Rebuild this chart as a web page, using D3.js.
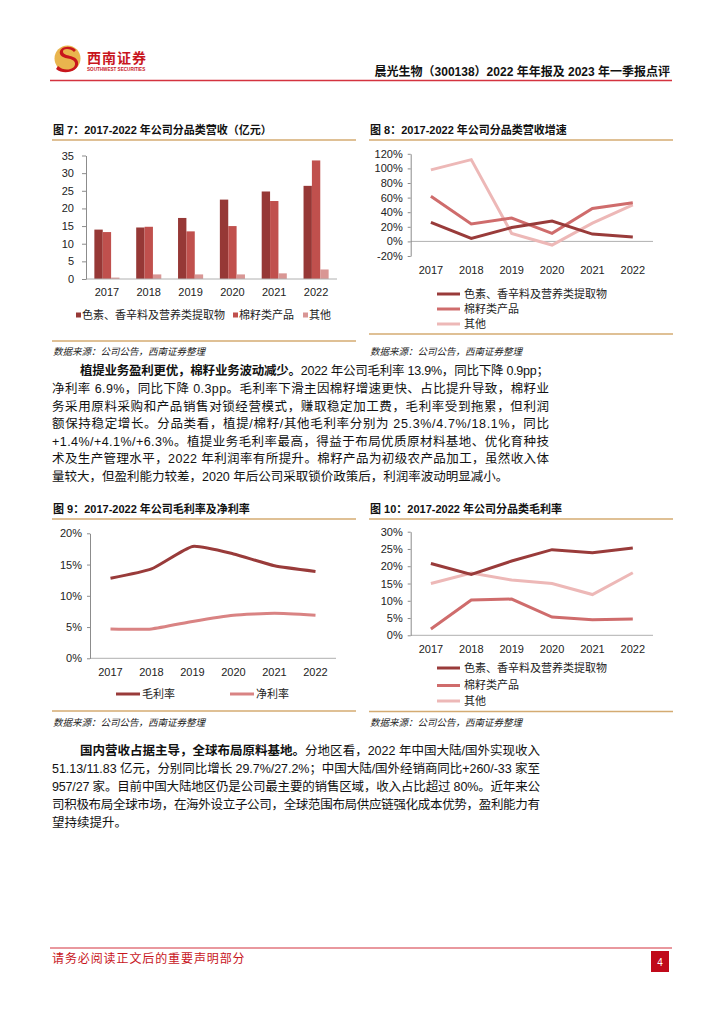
<!DOCTYPE html>
<html><head><meta charset="utf-8">
<script src="https://cdn.jsdelivr.net/npm/d3@7"></script>
<style>body{margin:0;background:#fff}</style>
</head><body>
<script>
// ---------------- DATA ----------------
const years = ["2017","2018","2019","2020","2021","2022"];
const seriesNames = ["色素、香辛料及营养类提取物","棉籽类产品","其他"];
const revPlant  = [14.0,14.6,17.3,22.5,24.8,26.4];
const revCotton = [13.3,14.8,13.5,15.0,22.1,33.6];
const revOther  = [0.4,1.3,1.3,1.3,1.6,2.7];
const revTicks  = [0,5,10,15,20,25,30,35];
const growthPlant  = [26,4,19,28,10,6];
const growthCotton = [62,24,32,11,45,53];
const growthOther  = [98,112,11,-5,25,50];
const growthTicks  = [-20,0,20,40,60,80,100,120];
const marginNames = ["毛利率","净利率"];
const grossMargin = [12.8,14.3,17.9,16.7,14.8,13.9];
const netMargin   = [4.7,4.7,5.9,6.9,7.2,6.9];
const marginTicks = [0,5,10,15,20];
const gmPlant  = [20.8,17.6,21.5,24.8,23.9,25.3];
const gmCotton = [1.8,10.2,10.5,5.3,4.5,4.7];
const gmOther  = [15.0,18.0,16.0,15.0,11.8,18.1];
const gmTicks  = [0,5,10,15,20,25,30];

const headerTitle = "晨光生物（300138）2022 年年报及 2023 年一季报点评";
const titles = ["图 7：2017-2022 年公司分品类营收（亿元）","图 8：2017-2022 年公司分品类营收增速",
                "图 9：2017-2022 年公司毛利率及净利率","图 10：2017-2022 年公司分品类毛利率"];
const sourceText = "数据来源：公司公告，西南证券整理";
const para1 = [
  ["植提业务盈利更优，棉籽业务波动减少。","2022 年公司毛利率 13.9%，同比下降 0.9pp；"],
  ["","净利率 6.9%，同比下降 0.3pp。毛利率下滑主因棉籽增速更快、占比提升导致，棉籽业"],
  ["","务采用原料采购和产品销售对锁经营模式，赚取稳定加工费，毛利率受到拖累，但利润"],
  ["","额保持稳定增长。分品类看，植提/棉籽/其他毛利率分别为 25.3%/4.7%/18.1%，同比"],
  ["","+1.4%/+4.1%/+6.3%。植提业务毛利率最高，得益于布局优质原材料基地、优化育种技"],
  ["","术及生产管理水平，2022 年利润率有所提升。棉籽产品为初级农产品加工，虽然收入体"],
  ["","量较大，但盈利能力较差，2020 年后公司采取锁价政策后，利润率波动明显减小。"]
];
const para2 = [
  ["国内营收占据主导，全球布局原料基地。","分地区看，2022 年中国大陆/国外实现收入"],
  ["","51.13/11.83 亿元，分别同比增长 29.7%/27.2%；中国大陆/国外经销商同比+260/-33 家至"],
  ["","957/27 家。目前中国大陆地区仍是公司最主要的销售区域，收入占比超过 80%。近年来公"],
  ["","司积极布局全球市场，在海外设立子公司，全球范围布局供应链强化成本优势，盈利能力有"],
  ["","望持续提升。"]
];
const footerText = "请务必阅读正文后的重要声明部分";
const pageNo = "4";

// ---------------- STYLE ----------------
const FONT = "'Liberation Sans','Noto Sans CJK SC',sans-serif";
const GOLD = "#D4AB72";
const C_DARK = "#963836", C_MID = "#C0504D", C_LIGHT = "#D99694";
const L_DARK = "#993B3A", L_MID = "#CF6C6C", L_LIGHT = "#EDB8B7";

const svg = d3.select("body").append("svg").attr("width",724).attr("height",1024)
  .style("font-family",FONT);
svg.append("rect").attr("width",724).attr("height",1024).attr("fill","#fff");

// ---------------- HEADER ----------------
const logo = svg.append("g");
logo.append("circle").attr("cx",67.5).attr("cy",58.5).attr("r",13).attr("fill","#E9B54E");
logo.append("path").attr("d","M76,50 C70,44 58,47 60,54 C62,60 74,57 75,63 C76,70 64,72 58,66 L56,69 C64,76 80,71 78,62 C76,54 64,57 63,52 C62,48 71,48 74,52 Z").attr("fill","#C8161D");
logo.append("text").attr("x",87).attr("y",63).attr("font-size",14).attr("font-weight",700)
  .attr("fill","#C8161D").attr("letter-spacing",1).text("西南证券");
logo.append("text").attr("x",87).attr("y",71).attr("font-size",4.6).attr("font-weight",700)
  .attr("fill","#C8161D").text("SOUTHWEST SECURITIES");
svg.append("text").attr("x",670).attr("y",76).attr("text-anchor","end").attr("font-size",12)
  .attr("font-weight",700).attr("fill","#111").text(headerTitle);
svg.append("line").attr("x1",50).attr("x2",672).attr("y1",80.5).attr("y2",80.5)
  .attr("stroke","#D4333F").attr("stroke-width",1.5);

// ---------------- HELPERS ----------------
function titleBlock(x, x2, y, text){
  svg.append("text").attr("x",x).attr("y",y).attr("dy","0.35em").attr("font-size",11)
    .attr("font-weight",700).attr("fill","#111").text(text);
  svg.append("line").attr("x1",x-1).attr("x2",x2).attr("y1",y+10).attr("y2",y+10)
    .attr("stroke",GOLD).attr("stroke-width",1.5);
}
function bottomBlock(x, x2, lineY, srcY){
  svg.append("line").attr("x1",x-1).attr("x2",x2).attr("y1",lineY).attr("y2",lineY)
    .attr("stroke",GOLD).attr("stroke-width",1.5);
  svg.append("text").attr("x",x).attr("y",srcY).attr("dy","0.35em").attr("font-size",9.5)
    .attr("font-style","italic").attr("fill","#222").text(sourceText);
}
function yAxis(g, y, ticks, fmt, x, tickLen, pad){
  const ax = g.append("g").attr("transform",`translate(${x},0)`)
    .call(d3.axisLeft(y).tickValues(ticks).tickFormat(fmt).tickSizeOuter(0).tickSizeInner(tickLen).tickPadding(pad));
  ax.select(".domain").attr("stroke","#8c8c8c");
  ax.selectAll(".tick line").attr("stroke","#8c8c8c");
  ax.selectAll(".tick text").attr("font-size",11).attr("fill","#222").attr("font-family",FONT);
  return ax;
}
function xLabels(g, xs, y){
  g.selectAll(null).data(years).enter().append("text")
    .attr("x",d=>xs(d)).attr("y",y).attr("dy","0.35em").attr("text-anchor","middle")
    .attr("font-size",11).attr("fill","#222").text(d=>d);
}
function lineLegend(g, items, x, ys){
  items.forEach((it,i)=>{
    g.append("line").attr("x1",x).attr("x2",x+23).attr("y1",ys[i]).attr("y2",ys[i])
      .attr("stroke",it.color).attr("stroke-width",3);
    g.append("text").attr("x",x+27).attr("y",ys[i]).attr("dy","0.35em").attr("font-size",11)
      .attr("fill","#222").text(it.name);
  });
}

// ---------------- CHART 7: bars ----------------
{
  titleBlock(53,356,130,titles[0]);
  const g = svg.append("g");
  const x0 = d3.scaleBand().domain(years).range([86,337]).paddingInner(0.4).paddingOuter(0.2);
  const x1 = d3.scaleBand().domain([0,1,2]).range([0,x0.bandwidth()]);
  const y = d3.scaleLinear().domain([0,35]).range([279,155.5]);
  const series = [revPlant,revCotton,revOther];
  const cols = [C_DARK,C_MID,C_LIGHT];
  series.forEach((s,k)=>{
    g.selectAll(null).data(s).enter().append("rect")
      .attr("x",(d,i)=>x0(years[i])+x1(k)).attr("width",x1.bandwidth())
      .attr("y",d=>y(d)).attr("height",d=>y(0)-y(d)).attr("fill",cols[k]);
  });
  g.append("line").attr("x1",86).attr("x2",337).attr("y1",y(0)).attr("y2",y(0)).attr("stroke","#b0b0b0");
  yAxis(g,y,revTicks,d=>d,86,4,8);
  const xc = d=>x0(d)+x0.bandwidth()/2;
  xLabels(g,xc,292);
  const lx = [76,233,303];
  seriesNames.forEach((n,i)=>{
    g.append("rect").attr("x",lx[i]).attr("y",312.5).attr("width",5).attr("height",5).attr("fill",cols[i]);
    g.append("text").attr("x",lx[i]+6).attr("y",315).attr("dy","0.35em").attr("font-size",11)
      .attr("fill","#222").text(n);
  });
  bottomBlock(53,356,341,352);
}

// ---------------- CHART 8: growth lines ----------------
{
  titleBlock(370,673,130,titles[1]);
  const g = svg.append("g");
  const x = d3.scalePoint().domain(years).range([410.7,653]).padding(0.5);
  const y = d3.scaleLinear().domain([-20,120]).range([256,153.8]);
  g.append("line").attr("x1",410.7).attr("x2",653).attr("y1",y(0)).attr("y2",y(0)).attr("stroke","#b0b0b0");
  yAxis(g,y,growthTicks,d=>d+"%",410.7,3,5);
  const line = d3.line().x((d,i)=>x(years[i])).y(d=>y(d));
  [[growthOther,L_LIGHT],[growthCotton,L_MID],[growthPlant,L_DARK]].forEach(([s,c])=>{
    g.append("path").attr("d",line(s)).attr("fill","none").attr("stroke",c).attr("stroke-width",3);
  });
  xLabels(g,x,270);
  lineLegend(g,[{name:seriesNames[0],color:L_DARK},{name:seriesNames[1],color:L_MID},{name:seriesNames[2],color:L_LIGHT}],437,[294,309,324]);
  bottomBlock(370,673,334,352);
}

// ---------------- CHART 9: margins ----------------
{
  titleBlock(53,356,509,titles[2]);
  const g = svg.append("g");
  const x = d3.scalePoint().domain(years).range([90,336]).padding(0.5);
  const y = d3.scaleLinear().domain([0,20]).range([658.3,533.3]);
  g.append("line").attr("x1",90).attr("x2",336).attr("y1",y(0)).attr("y2",y(0)).attr("stroke","#b0b0b0");
  yAxis(g,y,marginTicks,d=>d+"%",90,3,5);
  const line = d3.line().x((d,i)=>x(years[i])).y(d=>y(d)).curve(d3.curveCardinal.tension(0.5));
  [[netMargin,"#D98383"],[grossMargin,L_DARK]].forEach(([s,c])=>{
    g.append("path").attr("d",line(s)).attr("fill","none").attr("stroke",c).attr("stroke-width",3);
  });
  xLabels(g,x,672);
  const items = [{name:marginNames[0],color:L_DARK,x:116},{name:marginNames[1],color:"#D98383",x:230}];
  items.forEach(it=>{
    g.append("line").attr("x1",it.x).attr("x2",it.x+24).attr("y1",694).attr("y2",694)
      .attr("stroke",it.color).attr("stroke-width",3);
    g.append("text").attr("x",it.x+26).attr("y",694).attr("dy","0.35em").attr("font-size",11)
      .attr("fill","#222").text(it.name);
  });
  bottomBlock(53,356,711,723);
}

// ---------------- CHART 10: segment gross margins ----------------
{
  titleBlock(370,673,509,titles[3]);
  const g = svg.append("g");
  const x = d3.scalePoint().domain(years).range([410.7,653]).padding(0.5);
  const y = d3.scaleLinear().domain([0,30]).range([635.3,531.7]);
  g.append("line").attr("x1",410.7).attr("x2",653).attr("y1",y(0)).attr("y2",y(0)).attr("stroke","#b0b0b0");
  yAxis(g,y,gmTicks,d=>d+"%",410.7,3,5);
  const line = d3.line().x((d,i)=>x(years[i])).y(d=>y(d));
  [[gmOther,L_LIGHT],[gmCotton,L_MID],[gmPlant,L_DARK]].forEach(([s,c])=>{
    g.append("path").attr("d",line(s)).attr("fill","none").attr("stroke",c).attr("stroke-width",3);
  });
  xLabels(g,x,649);
  lineLegend(g,[{name:seriesNames[0],color:L_DARK},{name:seriesNames[1],color:L_MID},{name:seriesNames[2],color:L_LIGHT}],437,[668,685.5,701]);
  bottomBlock(370,673,711.5,723);
}

// ---------------- BODY TEXT ----------------
function paragraph(lines, y0, step, right){
  lines.forEach((ln,i)=>{
    const first = i===0;
    const x = first ? 80 : 52;
    const t = svg.append("text").attr("x",x).attr("y",y0+i*step).attr("dy","0.35em")
      .attr("font-size",12.5).attr("fill","#111");
    if(ln[0]) t.append("tspan").attr("font-weight",700).text(ln[0]);
    t.append("tspan").text(ln[1]);
    if(i < lines.length-1){
      const w = t.node().getComputedTextLength();
      const n = (ln[0]+ln[1]).length;
      const ls = (right - x - w)/(n-1);
      t.attr("letter-spacing",ls.toFixed(3));
    }
  });
}
paragraph(para1,371,17.6,549);
paragraph(para2,751,17.8,540);

// ---------------- FOOTER ----------------
svg.append("line").attr("x1",50).attr("x2",672).attr("y1",948).attr("y2",948)
  .attr("stroke","#D4333F").attr("stroke-width",1.2);
svg.append("text").attr("x",52).attr("y",959).attr("dy","0.35em").attr("font-size",12)
  .attr("fill","#C8161D").attr("letter-spacing",0.9).text(footerText);
svg.append("rect").attr("x",651).attr("y",951).attr("width",18).attr("height",21).attr("fill","#C00A1A");
svg.append("text").attr("x",660).attr("y",962).attr("dy","0.35em").attr("text-anchor","middle")
  .attr("font-size",10).attr("fill","#fff").text(pageNo);
</script>
</body></html>
